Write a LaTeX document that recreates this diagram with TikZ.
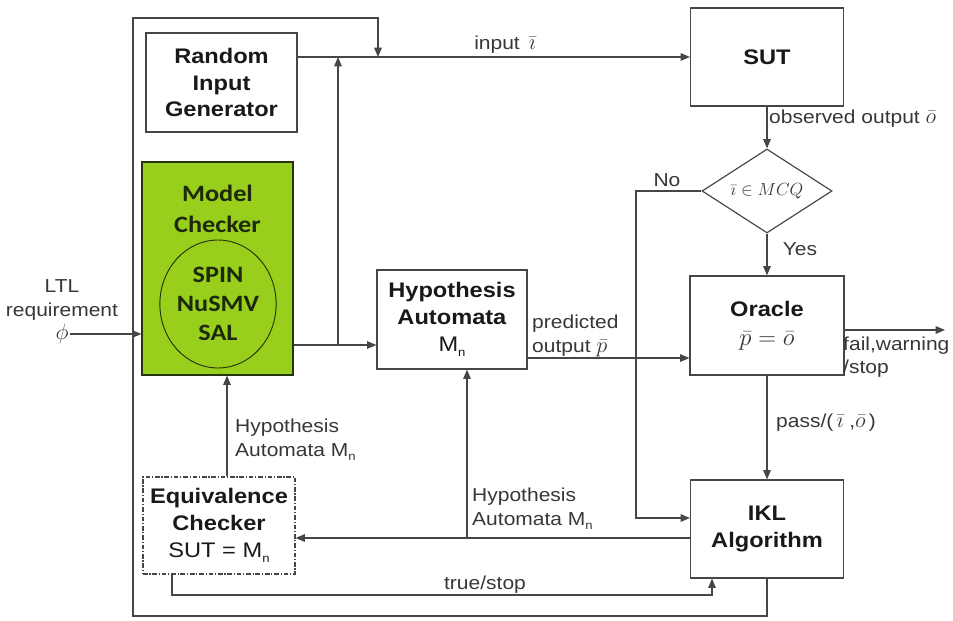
\documentclass[tikz,border=0pt]{standalone}
\usepackage{fix-cm}
\usepackage{fontspec}
\setmainfont{Liberation Sans}[FakeStretch=1.12]
\newfontfamily\calfont{Carlito}[FakeStretch=1.12]
\usetikzlibrary{arrows.meta,shapes.geometric,calc}
\definecolor{mcgreen}{RGB}{152,206,28}
\definecolor{lncol}{RGB}{70,70,70}
\definecolor{txcol}{RGB}{25,25,25}
\definecolor{lbcol}{RGB}{55,55,55}
\definecolor{mctx}{RGB}{30,40,10}
\newcommand\Mn{M\raisebox{-0.5ex}{\fontsize{10}{10}\selectfont n}}
\newcommand\lgmath[1]{{\fontsize{19}{20}\selectfont$#1$}}
\begin{document}
\begin{tikzpicture}[x=0.03cm,y=-0.03cm,
  box/.style={draw=lncol, line width=1pt, fill=white, rectangle, inner sep=0pt, align=center, text=txcol, font=\fontsize{18}{23}\selectfont},
  lab/.style={text=lbcol, font=\fontsize{16}{20}\selectfont, inner sep=0pt, align=left},
  arr/.style={draw=lncol, line width=1pt, -{Triangle[length=8pt,width=6.5pt]}},
  wire/.style={draw=lncol, line width=1pt}]
\useasboundingbox (0,0) rectangle (953,621);

% boxes
\node[box, minimum width=4.53cm, minimum height=2.97cm] (rig) at (221.5,82.5) {\textbf{Random}\\\textbf{Input}\\\textbf{Generator}};
\node[box, minimum width=4.59cm, minimum height=2.94cm] (sut) at (767,57) {\textbf{SUT}};
\node[draw=lncol, line width=1pt, diamond, inner sep=0pt, minimum width=3.9cm, minimum height=2.52cm] (dia) at (767,191) {};
\node[text=lbcol, font=\fontsize{15}{16}\selectfont] (diatext) at (dia) {$\bar{\imath}\in MCQ$};
\node[draw=black!75!mcgreen, line width=1pt, fill=mcgreen, minimum width=4.53cm, minimum height=6.39cm, inner sep=0pt] (mc) at (217.5,268.5) {};
\node[text=mctx, font=\calfont\bfseries\fontsize{20}{26}\selectfont, align=center] (mctext) at (217.5,209) {Model\\Checker};
\node[draw=black!75!mcgreen, line width=0.8pt, ellipse, minimum width=3.3cm, minimum height=3.84cm, inner sep=0pt, text=mctx, font=\calfont\bfseries\fontsize{20}{25}\selectfont, align=center] (ell) at (218,304) {SPIN\\NuSMV\\SAL};
\node[box, minimum width=4.5cm, minimum height=2.97cm] (ha) at (452,319.5) {\textbf{Hypothesis}\\\textbf{Automata}\\\Mn};
\node[box, minimum width=4.62cm, minimum height=2.97cm] (orc) at (767,325.5) {\textbf{Oracle}\\[2pt]{\color{lbcol}\fontsize{21}{22}\selectfont$\bar{p}=\bar{o}$}};
\node[box, minimum width=4.59cm, minimum height=2.94cm] (ikl) at (767,529) {\textbf{IKL}\\\textbf{Algorithm}};
\node[box, dash pattern=on 4pt off 1.5pt on 1pt off 1.5pt, minimum width=4.56cm, minimum height=2.91cm] (ec) at (219,525.5) {\textbf{Equivalence}\\\textbf{Checker}\\SUT = \Mn};

% coordinates
\coordinate (jA) at (338,345);
\coordinate (jB) at (467,538);
\coordinate (tl) at (133,18);
\coordinate (bl) at (133,616);
\coordinate (tr) at (378,18);
\coordinate (nc) at (636,518);
\coordinate (ts) at (712,595);
\coordinate (ecs) at (172,595);
\coordinate (fe) at (945,330);
\coordinate (py) at (600,358);
\coordinate (ecx) at (227,450);

% labels
\node[lab, align=center] (lltl) at (62,300) {LTL\\requirement};
\node[text=lbcol, font=\fontsize{19}{19}\selectfont, inner sep=1pt] (phi) at (62,334) {$\phi$};
\node[lab] (linp) at (505,45) {input \,\lgmath{\bar{\imath}}};
\node[lab, anchor=west] (lobs) at (769,119) {observed output \lgmath{\bar{o}}};
\node[lab] (lno) at (667,180) {No};
\node[lab] (lyes) at (800,249) {Yes};
\node[lab, anchor=west] (lpred) at (532,336) {predicted\\output \lgmath{\bar{p}}};
\node[lab, anchor=west] (lfail) at (843,357) {fail,warning\\/stop};
\node[lab, anchor=west] (lpass) at (776,423) {pass/(\,\lgmath{\bar{\imath}} ,\lgmath{\bar{o}}\,)};
\node[lab, anchor=west] (lh1) at (235,440) {Hypothesis\\Automata \Mn};
\node[lab, anchor=west] (lh2) at (472,509) {Hypothesis\\Automata \Mn};
\node[lab] (ltrue) at (485,585) {true/stop};

% connectors
\draw[arr] (rig.east |- sut.west) -- (sut.west);
\draw[arr] (ikl.south) -- (ikl.south |- bl) -- (bl) -- (tl) -- (tr) -- (tr |- sut.west);
\draw[arr] (mc.east |- jA) -- (ha.west |- jA);
\draw[arr] (jA) -- (jA |- sut.west);
\draw[arr] (phi.east) -- (mc.west |- phi.east);
\draw[arr] (sut.south) -- (dia.north);
\draw[arr] (dia.south) -- (orc.north);
\draw[arr] (dia.west) -| (nc) -- (ikl.west |- nc);
\draw[arr] (ha.east |- py) -- (orc.west |- py);
\draw[arr] (orc.east |- fe) -- (fe);
\draw[arr] (orc.south) -- (ikl.north);
\draw[arr] (ikl.west |- jB) -- (ec.east |- jB);
\draw[arr] (jB) -- (ha.south -| jB);
\draw[arr] (ec.north -| ecx) -- (mc.south -| ecx);
\draw[arr] (ec.south -| ecs) -- (ecs) -- (ts) -- (ts |- ikl.south);
\end{tikzpicture}
\end{document}
